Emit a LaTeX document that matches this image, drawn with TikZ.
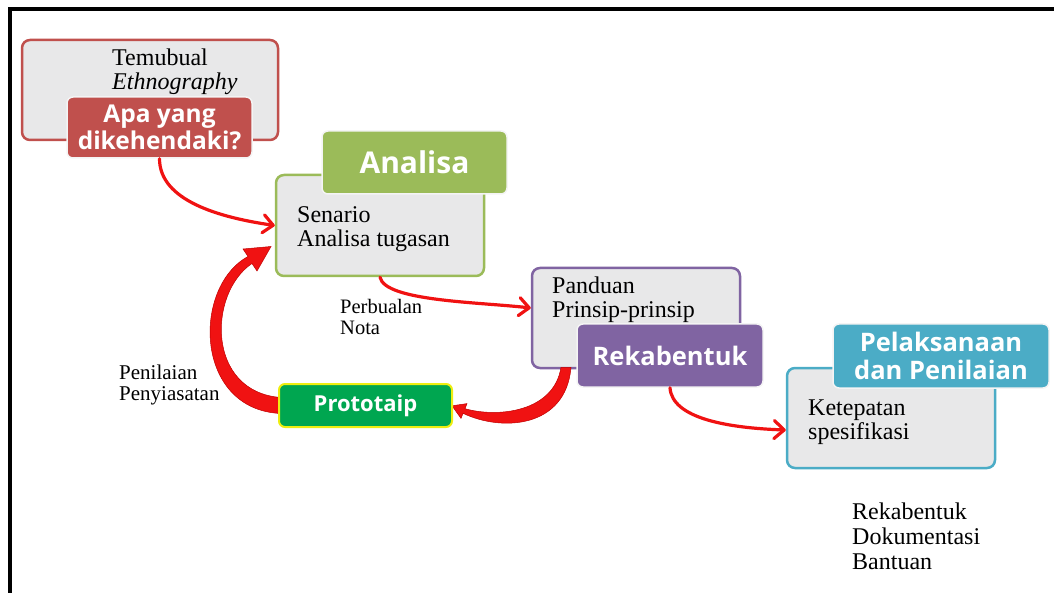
\documentclass[tikz,border=0pt]{standalone}
\usepackage{fontspec}
\setmainfont{Liberation Serif}
\newfontfamily\labelfont{Open Sans}
\usetikzlibrary{arrows.meta,calc}

\definecolor{boxfill}{HTML}{E8E8E9}
\definecolor{redline}{HTML}{C0504D}
\definecolor{greenline}{HTML}{9BBB59}
\definecolor{purpleline}{HTML}{8064A2}
\definecolor{tealline}{HTML}{4BACC6}
\definecolor{protofill}{HTML}{00A650}
\definecolor{protoedge}{HTML}{EEEE10}
\definecolor{arrowred}{HTML}{F01212}
\definecolor{tagedge}{HTML}{F4F4F4}

\pgfdeclarelayer{front}
\pgfsetlayers{main,front}

\tikzset{
  graybox/.style={rounded corners=8pt, fill=boxfill, line width=2.5pt,
    inner sep=0pt, shape=rectangle},
  tagbox/.style={rounded corners=6pt, draw=tagedge, line width=1.5pt,
    text=white, font=\labelfont\bfseries, align=center, inner sep=0pt},
  flow/.style={draw=arrowred, line width=3.2pt, line cap=round,
    -{Straight Barb[length=10pt,width=18pt,round]}},
  bigflow/.style={fill=arrowred, draw=red!75!black, line width=0.5pt},
  % multi-line text nodes: the base anchor sits on the last line
  bodytext/.style={font=\fontsize{24}{24}\selectfont, align=left,
    inner sep=0pt, anchor=base west},
  smalltext/.style={font=\fontsize{21}{21.5}\selectfont, align=left,
    inner sep=0pt, anchor=base west},
}

\begin{document}
\begin{tikzpicture}[x=1pt,y=-1pt]
\useasboundingbox (0,0) rectangle (1054,593);

% page frame
\draw[line width=4pt] (10,593) -- (10,8.7) -- (1054,8.7);

% grey content boxes
\node[graybox, draw=redline, minimum width=256pt, minimum height=100pt] (temu) at (150,90) {};
\node[graybox, draw=greenline, minimum width=208pt, minimum height=101pt] (ana) at (380,225.5) {};
\node[graybox, draw=purpleline, minimum width=208pt, minimum height=100pt] (pan) at (636,318) {};
\node[graybox, draw=tealline, minimum width=208pt, minimum height=100pt] (ket) at (891,418) {};

% coloured stage tags
\node[tagbox, fill=redline, minimum width=185pt, minimum height=61pt,
  font=\labelfont\bfseries\fontsize{24.5}{27}\selectfont] (apa) at (159.5,127.5) {Apa yang\\dikehendaki?};
\node[tagbox, fill=greenline, minimum width=185pt, minimum height=63pt,
  font=\labelfont\bfseries\fontsize{30}{32}\selectfont] (analisa) at (414.5,162.5) {Analisa};
\node[tagbox, fill=purpleline, minimum width=186pt, minimum height=63pt,
  font=\labelfont\bfseries\fontsize{25.5}{28}\selectfont] (rek) at (670,355.5) {Rekabentuk};
\node[tagbox, fill=tealline, minimum width=216pt, minimum height=64pt,
  font=\labelfont\bfseries\fontsize{25.5}{28}\selectfont] (pel) at (941,356) {Pelaksanaan\\dan Penilaian};

% prototype tag, kept in front of the arrows
\begin{pgfonlayer}{front}
\node[rounded corners=6pt, fill=protofill, draw=protoedge, line width=2pt,
  text=white, font=\labelfont\bfseries\fontsize{22}{24}\selectfont,
  minimum width=173pt, minimum height=43pt, inner sep=0pt] (proto) at (365.5,405.5) {Prototaip};
\end{pgfonlayer}

% box contents
\node[bodytext] (t1) at (112,89.5) {Temubual\\\textit{Ethnography}};
\node[bodytext] (t2) at (297,246.5) {Senario\\Analisa tugasan};
\node[bodytext] (t3) at (552,317.5) {Panduan\\Prinsip-prinsip};
\node[bodytext] (t4) at (808,439.5) {Ketepatan\\spesifikasi};

% free notes
\node[smalltext, font=\fontsize{20.5}{21.5}\selectfont] (n1) at (340,334.5) {Perbualan\\Nota};
\node[smalltext] (n2) at (119,400.5) {Penilaian\\Penyiasatan};
\node[bodytext, font=\fontsize{24}{25}\selectfont] (n3) at (852,569.5) {Rekabentuk\\Dokumentasi\\Bantuan};

% thin flow arrows
\draw[flow] (apa.south) .. controls +(0,42) and +(-55,-8) .. (ana.west);
\draw[flow] (ana.south) .. controls +(5,24) and +(-52,-6) .. ($(pan.west)+(0,-10)$);
\draw[flow] (rek.south) .. controls +(2,31) and +(-57,-2) .. ($(ket.west)+(0,12)$);

% tapered arrow: design back to prototype
\fill[bigflow] ($(pan.south)+(-75,-2)$) -- ($(pan.south)+(-65,-2)$)
  .. controls (566,428) and (502,432) .. (463,413.3)
  -- (461,418.4) -- ($(proto.east)+(-1,0.3)$) -- (467,403.6) -- (465,408.7)
  .. controls (498,418) and (554,412) .. ($(pan.south)+(-75,-2)$) -- cycle;

% tapered arrow: prototype back to analysis
\fill[bigflow] ($(proto.west)+(3,8)$) .. controls (194,410) and (192,287) .. (248,256.5)
  -- (243,249) -- (271,246.5) -- (257,271) -- (252,263.5)
  .. controls (208,293) and (206,392) .. ($(proto.west)+(3,-8)$) -- cycle;
\end{tikzpicture}
\end{document}
